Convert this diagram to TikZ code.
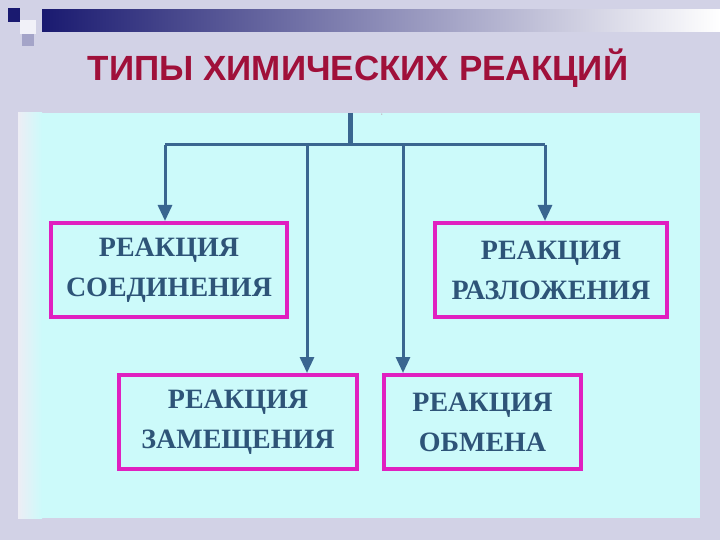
\documentclass[tikz,border=0pt]{standalone}
\usepackage{fontspec}
\setmainfont{Liberation Serif}
\newfontfamily\titlefont{Liberation Sans}
\definecolor{bg}{HTML}{D2D2E6}
\definecolor{panel}{HTML}{CCFAFA}
\definecolor{lineblue}{HTML}{3A6690}
\definecolor{txtblue}{HTML}{2E5478}
\definecolor{pinkb}{HTML}{E020C0}
\definecolor{titlered}{HTML}{A0103A}
\definecolor{navy}{HTML}{1A1A70}
\usetikzlibrary{arrows.meta}
\tikzset{x=1pt,y=-1pt,
 reacbox/.style={draw=pinkb,line width=4pt,fill=panel,minimum height=94pt,align=center,
   font=\fontsize{28}{40}\selectfont\bfseries,text=txtblue,inner sep=0pt},
 conn/.style={draw=lineblue,line width=3pt},
 arr/.style={conn,-{Triangle[length=16pt,width=14pt]}}}
\begin{document}
\begin{tikzpicture}
\useasboundingbox (0,0) rectangle (720,540);
\fill[bg] (0,0) rectangle (720,540);
% top decoration
\shade[left color=navy,right color=white] (42,10) rectangle (720,32);
\fill[navy] (8,8) rectangle (20,22);
\fill[white!70!bg] (20,20) rectangle (36,34);
\fill[bg!75!navy] (22,34) rectangle (34,46);
\node[font=\titlefont\bfseries\fontsize{35}{40}\selectfont,text=titlered] (title) at (358,68) {ТИПЫ ХИМИЧЕСКИХ РЕАКЦИЙ};
% panel
\fill[panel] (18,113) rectangle (700,518);
\shade[left color=white!60!bg,right color=panel] (18,113) rectangle (42,518);
\node[reacbox,minimum width=236pt] (b1) at (169,270) {РЕАКЦИЯ\\СОЕДИНЕНИЯ};
\node[reacbox,minimum width=232pt] (b2) at (551,270) {РЕАКЦИЯ\\РАЗЛОЖЕНИЯ};
\node[reacbox,minimum width=238pt] (b3) at (238,422) {РЕАКЦИЯ\\ЗАМЕЩЕНИЯ};
\node[reacbox,minimum width=197pt] (b4) at (482.5,422) {РЕАКЦИЯ\\ОБМЕНА};
\coordinate (top) at (350,113);
\coordinate (j) at (350,145);
\coordinate (l) at (165,145);
\coordinate (r) at (545,145);
\coordinate (m1) at (307,145);
\coordinate (m2) at (403,145);
\draw[conn,line width=5pt] (top) -- (j);
\draw[conn] (l) -- (r);
\draw[arr] (l) -- (l |- b1.north);
\draw[arr] (r) -- (r |- b2.north);
\draw[arr] (m1) -- (m1 |- b3.north);
\draw[arr] (m2) -- (m2 |- b4.north);
\node[text=titlered,font=\tiny,inner sep=0pt] (tick) at (382,116) {'};
\end{tikzpicture}
\end{document}
